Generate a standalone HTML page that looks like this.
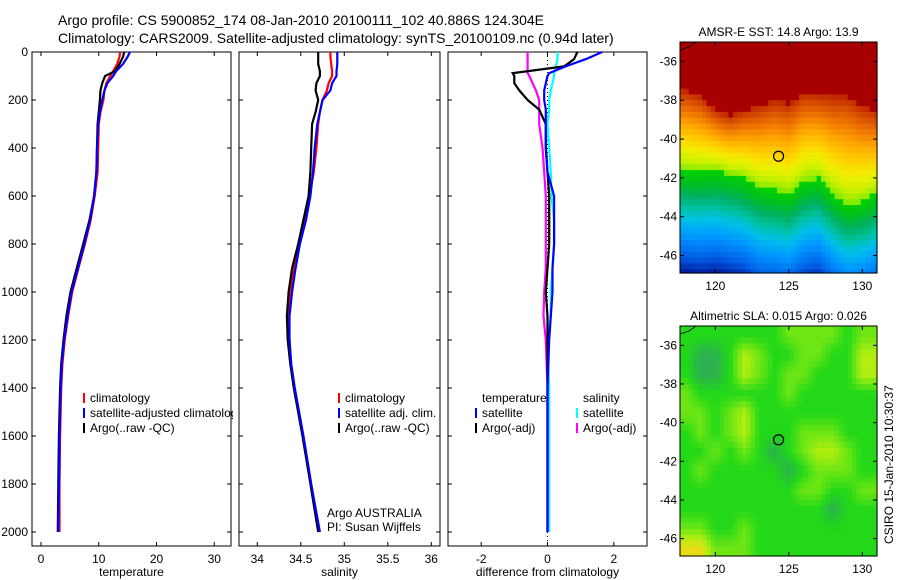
<!DOCTYPE html>
<html><head><meta charset="utf-8">
<style>
html,body{margin:0;padding:0;background:#fff;}
svg{display:block;font-family:"Liberation Sans",sans-serif;}
text{fill:#000;}
</style></head>
<body>
<svg id="fig" width="900" height="580" viewBox="0 0 900 580">
<text x="58" y="25" font-size="14">Argo profile: CS 5900852_174 08-Jan-2010 20100111_102 40.886S 124.304E</text>
<text x="58" y="43" font-size="14">Climatology: CARS2009. Satellite-adjusted climatology: synTS_20100109.nc (0.94d later)</text>
</svg>
<script>
// ---------- DATA ----------
const depths = [0,20,50,80,100,130,160,200,250,300,400,500,600,700,800,900,1000,1100,1200,1300,1400,1600,1800,2000];
const tempClim = [13.7,13.6,13.2,12.5,12.0,11.3,11.0,10.8,10.3,10.0,9.9,9.8,9.3,8.6,7.6,6.5,5.4,4.7,4.1,3.7,3.5,3.3,3.2,3.2];
const tempSat  = [15.4,15.0,14.2,13.0,12.5,11.5,11.0,10.6,10.2,9.9,9.7,9.6,9.2,8.5,7.5,6.4,5.3,4.6,4.0,3.6,3.4,3.2,3.1,3.0];
const tempArgo = [14.4,14.2,13.6,12.8,11.1,10.6,10.3,10.2,10.0,9.8,9.7,9.6,9.2,8.4,7.3,6.2,5.1,4.4,3.9,3.5,3.3,3.1,3.0,2.9];
const salClim = [34.84,34.84,34.85,34.86,34.86,34.82,34.80,34.75,34.72,34.70,34.68,34.65,34.60,34.55,34.48,34.42,34.38,34.36,34.37,34.39,34.43,34.53,34.62,34.71];
const salSat  = [34.92,34.92,34.92,34.91,34.91,34.86,34.84,34.75,34.72,34.69,34.66,34.64,34.61,34.56,34.49,34.44,34.40,34.37,34.37,34.39,34.43,34.53,34.62,34.72];
const salArgo = [34.70,34.70,34.70,34.72,34.72,34.68,34.67,34.70,34.67,34.63,34.62,34.61,34.59,34.53,34.47,34.40,34.36,34.34,34.35,34.38,34.42,34.52,34.61,34.70];
const diffDepths = [0,30,60,88,100,130,160,200,240,300,400,500,600,700,800,900,1000,1100,1200,1400,1600,1800,2000];
const dTempSat  = [1.65,1.15,0.55,0.05,0.0,-0.05,-0.1,-0.1,-0.05,-0.05,-0.05,0.0,0.2,0.2,0.2,0.15,0.15,0.1,0.05,0.0,0.0,0.0,0.0];
const dTempArgo = [0.9,0.8,0.5,-1.05,-1.0,-1.0,-0.85,-0.6,-0.25,-0.05,-0.05,0.0,0.05,0.05,0.05,0.0,-0.05,0.0,0.0,0.0,0.0,0.0,0.0];
const dSalSat   = [0.3,0.3,0.25,0.2,0.2,0.15,0.1,0.05,0.05,0.0,0.05,0.1,0.12,0.2,0.2,0.15,0.1,0.1,0.0,0.05,0.05,0.05,0.05];
const dSalArgo  = [-0.6,-0.6,-0.6,-0.6,-0.55,-0.45,-0.35,-0.25,-0.25,-0.25,-0.15,-0.1,-0.05,-0.05,-0.05,-0.05,-0.1,-0.12,-0.05,0.0,0.0,0.0,0.0];
const depthTicks = [0,200,400,600,800,1000,1200,1400,1600,1800,2000];
const tempTicks = [0,10,20,30];
const salTicks = [34,34.5,35,35.5,36];
const diffTicks = [-2,0,2];
// SST map data
const mapLons = [118,119,120,121,122,123,124,125,126,127,128,129,130,131];
const sstRedLat   = [-37.5,-37.8,-38.5,-38.8,-38.5,-38.3,-38.0,-38.2,-37.6,-37.7,-37.8,-37.8,-38.3,-38.6];
const sstFrontLat = [-41.6,-41.7,-41.6,-41.8,-42.0,-42.5,-42.6,-42.8,-42.2,-42.0,-42.8,-43.4,-43.2,-42.8];
// SLA map data (rows lat -35.5..-46.5, cols lon 118..130), level 0..4
const slaLevels = [
[1,1,1,1,1,1,1,2,2,2,2,1,2],
[1,0,0,1,3,2,1,1,2,2,1,1,3],
[1,0,0,1,3,2,1,2,2,1,1,1,3],
[2,1,1,1,1,1,1,2,1,1,1,1,1],
[2,2,1,2,3,1,1,1,1,1,1,1,1],
[1,2,1,2,3,1,1,1,2,2,2,1,1],
[1,1,2,1,2,1,0,1,2,3,3,2,1],
[1,2,1,1,1,1,1,0,1,2,2,2,1],
[1,1,1,1,1,1,1,1,2,2,1,1,2],
[1,1,1,1,1,1,1,1,1,1,0,1,1],
[2,2,1,1,2,1,1,1,1,1,1,1,1],
[4,4,2,2,2,1,1,1,1,1,1,1,1]];
const mapLatTicks = [-36,-38,-40,-42,-44,-46];
const mapLonTicks = [120,125,130];
const floatLon = 124.304, floatLat = -40.886;

// ---------- DRAWING ----------
const NS='http://www.w3.org/2000/svg';
const svg=document.getElementById('fig');
function mk(tag,attrs,parent){const e=document.createElementNS(NS,tag);for(const k in attrs)e.setAttribute(k,attrs[k]);(parent||svg).appendChild(e);return e;}
const yTop=52, pxPerM=0.24, yBot=546;
function yD(d){return yTop+d*pxPerM;}

function panel(name,x0,x1,xmin,xmax,ticks,label,showY){
  const g=mk('g',{});
  
  
  const xs=v=>x0+(v-xmin)/(xmax-xmin)*(x1-x0);
  const r=mk('rect',{x:x0,y:yTop,width:x1-x0,height:yBot-yTop,fill:'none',stroke:'#000','stroke-width':1},g);
  
  
  ticks.forEach(t=>{
    const x=xs(t);
    mk('line',{x1:x,x2:x,y1:yBot,y2:yBot-4,stroke:'#000'},g);
    mk('line',{x1:x,x2:x,y1:yTop,y2:yTop+4,stroke:'#000'},g);
    const tx=mk('text',{x:x,y:yBot+17,'font-size':12,'text-anchor':'middle'},g);
    tx.textContent=String(t);
    
    
  });
  depthTicks.forEach(d=>{
    const y=yD(d);
    mk('line',{x1:x0,x2:x0+4,y1:y,y2:y,stroke:'#000'},g);
    mk('line',{x1:x1,x2:x1-4,y1:y,y2:y,stroke:'#000'},g);
    if(showY){const tx=mk('text',{x:x0-4,y:y+4,'font-size':12,'text-anchor':'end'},g);tx.textContent=String(d);
      
      }
  });
  const lb=mk('text',{x:(x0+x1)/2,y:yBot+30,'font-size':12,'text-anchor':'middle'},g);
  lb.textContent=label;
  
  
  return {g,xs};
}
function series(p,vals,dep,color,name,w){
  const pts=vals.map((v,i)=>p.xs(v).toFixed(1)+','+yD(dep[i]).toFixed(1)).join(' ');
  const l=mk('polyline',{points:pts,fill:'none',stroke:color,'stroke-width':w||2.2,'stroke-linejoin':'miter'},p.g);
  
  
}
function legend(g,x,y,color,txt){
  if(color){const m=mk('line',{x1:x-6,x2:x-6,y1:y-9,y2:y+1,stroke:color,'stroke-width':2},g);
    
    }
  const t=mk('text',{x:x,y:y,'font-size':12},g);t.textContent=txt;
  
  
}
const defs=mk('defs',{});
const cp=mk('clipPath',{id:'clip1'},defs);
mk('rect',{x:32,y:52,width:201,height:494},cp);

const p1=panel('temperature-panel',32,231,-1.56,32.9,tempTicks,'temperature',true);
series(p1,tempClim,depths,'#f00','temp-climatology-line');
series(p1,tempArgo,depths,'#000','temp-argo-line');
series(p1,tempSat,depths,'#00f','temp-satellite-line');
const lg1=mk('g',{'clip-path':'url(#clip1)'},p1.g);
legend(lg1,90,402,'#f00','climatology');
legend(lg1,90,417,'#00f','satellite-adjusted climatology');
legend(lg1,90,432,'#000','Argo(..raw -QC)');

const p2=panel('salinity-panel',239,440,33.79,36.10,salTicks,'salinity',false);
series(p2,salClim,depths,'#f00','sal-climatology-line');
series(p2,salArgo,depths,'#000','sal-argo-line');
series(p2,salSat,depths,'#00f','sal-satellite-line');
legend(p2.g,345,402,'#f00','climatology');
legend(p2.g,345,417,'#00f','satellite adj. clim.');
legend(p2.g,345,432,'#000','Argo(..raw -QC)');
const a1=mk('text',{x:327,y:517,'font-size':12},p2.g);a1.textContent='Argo AUSTRALIA';


const a2=mk('text',{x:327,y:531,'font-size':12},p2.g);a2.textContent='PI: Susan Wijffels';



const p3=panel('difference-panel',448,647,-3.0,3.0,diffTicks,'difference from climatology',false);
const zl=mk('line',{x1:p3.xs(0),x2:p3.xs(0),y1:yTop,y2:yBot,stroke:'#000','stroke-dasharray':'1,3'},p3.g);


series(p3,dSalArgo,diffDepths,'#f0f','diff-sal-argo-line');
series(p3,dSalSat,diffDepths,'#0ff','diff-sal-satellite-line');
series(p3,dTempArgo,diffDepths,'#000','diff-temp-argo-line');
series(p3,dTempSat,diffDepths,'#00f','diff-temp-satellite-line');
legend(p3.g,482,402,null,'temperature');
legend(p3.g,482,417,'#00f','satellite');
legend(p3.g,482,432,'#000','Argo(-adj)');
legend(p3.g,583,402,null,'salinity');
legend(p3.g,583,417,'#0ff','satellite');
legend(p3.g,583,432,'#f0f','Argo(-adj)');

// ---------- MAPS ----------
const mx0=680,mx1=877,lonMin=117.6,lonMax=131.0,latTop=-35.0,latBot=-46.9;
const cmStops=[[0,[0,32,160]],[0.08,[0,96,232]],[0.18,[0,152,255]],[0.26,[0,192,232]],[0.32,[0,192,160]],[0.38,[0,176,96]],[0.44,[0,192,32]],[0.5,[0,208,0]],[0.52,[112,232,0]],[0.58,[200,240,0]],[0.64,[240,240,0]],[0.70,[255,208,0]],[0.77,[255,168,0]],[0.84,[240,120,0]],[0.9,[216,80,0]],[0.95,[192,40,0]],[1,[168,0,0]]];
function cmap(v){v=Math.max(0,Math.min(1,v));
  for(let i=0;i<cmStops.length-1;i++){const a=cmStops[i],b=cmStops[i+1];
    if(v<=b[0]){const f=(v-a[0])/(b[0]-a[0]);return 'rgb('+a[1].map((c,k)=>Math.round(c+(b[1][k]-c)*f)).join(',')+')';}}
  return 'rgb(168,0,0)';}
function interp(arr,lon){
  if(lon<=mapLons[0])return arr[0];
  for(let i=0;i<mapLons.length-1;i++){if(lon<=mapLons[i+1]){const f=(lon-mapLons[i])/(mapLons[i+1]-mapLons[i]);return arr[i]+(arr[i+1]-arr[i])*f;}}
  return arr[arr.length-1];}
function mapFrame(name,y0,y1,title){
  const g=mk('g',{});
  
  
  const xs=lon=>mx0+(lon-lonMin)/(lonMax-lonMin)*(mx1-mx0);
  const ys=lat=>y0+(latTop-lat)/(latTop-latBot)*(y1-y0);
  const t=mk('text',{x:(mx0+mx1)/2,y:y0-6,'font-size':12,'text-anchor':'middle'},g);t.textContent=title;
  
  
  return {g,xs,ys,y0,y1};
}
function mapAxes(m){
  const r=mk('rect',{x:mx0,y:m.y0,width:mx1-mx0,height:m.y1-m.y0,fill:'none',stroke:'#000'},m.g);
  
  
  mapLatTicks.forEach(l=>{const y=m.ys(l);
    mk('line',{x1:mx0,x2:mx0+4,y1:y,y2:y,stroke:'#000'},m.g);
    mk('line',{x1:mx1,x2:mx1-4,y1:y,y2:y,stroke:'#000'},m.g);
    const t=mk('text',{x:mx0-3,y:y+4,'font-size':12,'text-anchor':'end'},m.g);t.textContent=String(l);
    
    });
  mapLonTicks.forEach(l=>{const x=m.xs(l);
    mk('line',{x1:x,x2:x,y1:m.y1,y2:m.y1-4,stroke:'#000'},m.g);
    mk('line',{x1:x,x2:x,y1:m.y0,y2:m.y0+4,stroke:'#000'},m.g);
    const t=mk('text',{x:x,y:m.y1+17,'font-size':12,'text-anchor':'middle'},m.g);t.textContent=String(l);
    
    });
  const c=mk('circle',{cx:m.xs(floatLon),cy:m.ys(floatLat),r:5,fill:'none',stroke:'#000','stroke-width':1.2},m.g);
  
  
  mk('path',{d:'M'+mx0+' '+(m.y0+8)+' L'+(mx0+9)+' '+(m.y0+5)+' L'+(mx0+16)+' '+m.y0,fill:'none',stroke:'#000','stroke-width':0.8},m.g);
}
function drawCell(m,lon,lat,dlon,dlat,fill,nm){
  const x=m.xs(lon),y=m.ys(lat);
  const w=Math.min(m.xs(lon+dlon),mx1)-x+0.6, h=Math.min(m.ys(lat-dlat),m.y1)-y+0.6;
  const cell=mk('rect',{x:x.toFixed(1),y:y.toFixed(1),width:Math.max(0,w).toFixed(1),height:Math.max(0,h).toFixed(1),fill:fill},m.g);
  
  
}
// SST map
const m1=mapFrame('sst-map',42,273,'AMSR-E SST: 14.8 Argo: 13.9');
const step=0.3;
for(let lon=lonMin;lon<lonMax;lon+=step){
  const rl=interp(sstRedLat,lon+step/2), fl=interp(sstFrontLat,lon+step/2);
  for(let lat=latTop;lat>latBot;lat-=step){
    const lc=lat-step/2;let v;
    if(lc>rl)v=1;
    else if(lc>fl)v=0.95-(rl-lc)/(rl-fl)*0.42;
    else v=0.5-(fl-lc)*0.095;
    drawCell(m1,lon,lat,step,step,cmap(v),'sst-cell');
  }
}
mapAxes(m1);
// SLA map: bilinear between 1-degree values
const slaStops=[[0,[44,176,80]],[1,[34,216,24]],[2,[110,230,20]],[3,[180,238,16]],[4,[232,220,20]]];
function slaColor(v){v=Math.max(0,Math.min(4,v));const i=Math.min(3,Math.floor(v)),f=v-i;
  const a=slaStops[i][1],b=slaStops[i+1][1];return 'rgb('+a.map((c,k)=>Math.round(c+(b[k]-c)*f)).join(',')+')';}
function slaAt(lon,lat){
  const nr=slaLevels.length,nc=slaLevels[0].length;
  let cx=lon-118, ry=(-35.5-lat);
  cx=Math.max(0,Math.min(nc-1,cx)); ry=Math.max(0,Math.min(nr-1,ry));
  const c0=Math.floor(cx),r0=Math.floor(ry),c1=Math.min(nc-1,c0+1),r1=Math.min(nr-1,r0+1),fx=cx-c0,fy=ry-r0;
  const top=slaLevels[r0][c0]*(1-fx)+slaLevels[r0][c1]*fx, bot=slaLevels[r1][c0]*(1-fx)+slaLevels[r1][c1]*fx;
  return top*(1-fy)+bot*fy;}
const m2=mapFrame('sla-map',326,556,'Altimetric SLA: 0.015 Argo: 0.026');
for(let lon=lonMin;lon<lonMax;lon+=step){
  for(let lat=latTop;lat>latBot;lat-=step){
    drawCell(m2,lon,lat,step,step,slaColor(slaAt(lon+step/2,lat-step/2)),'sla-cell');
  }
}
mapAxes(m2);
const st=mk('text',{x:0,y:0,'font-size':12,transform:'translate(893,544) rotate(-90)'});
st.textContent='CSIRO 15-Jan-2010 10:30:37';


</script>
</body></html>
